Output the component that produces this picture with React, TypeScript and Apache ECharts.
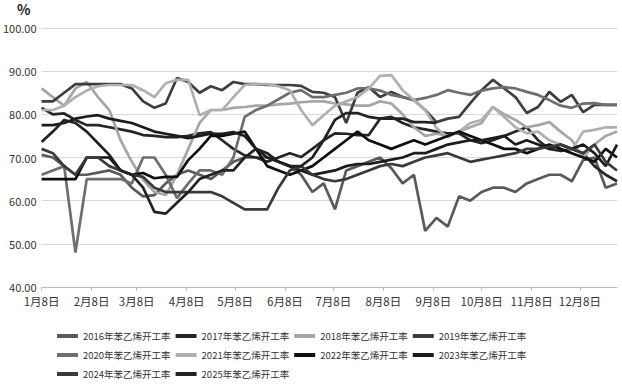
import React, { useEffect, useRef } from "react";
import * as echarts from "echarts";

// Weekly observations, first point on 1月8日, one point every 7 days
const s2016 = [70.6, 70, 68, 66, 66, 66.5, 67, 66, 63, 61, 61.3, 64, 66, 67, 66, 65, 67, 69, 70, 70, 70, 69, 68, 66, 62, 64, 58, 67, 68, 69, 70, 67.5, 64, 66, 53, 56, 54, 61, 60, 62, 63, 63, 62, 64, 65, 66, 66, 64.5, 69.4, 70, 63, 64];
const s2017 = [81.5, 80, 80.2, 78.7, 77.5, 77.5, 77, 76.5, 76, 75.2, 75, 74.7, 74.7, 75, 75.6, 75.9, 74, 72, 70.5, 70, 69, 70, 71, 70.1, 72, 74, 75.6, 75.5, 75.2, 75.2, 79, 79.4, 78, 77, 76.5, 76, 75.6, 75.6, 74, 73.3, 74, 75, 76, 77, 74, 72, 71.5, 72, 71, 68, 66, 64.5];
const s2018 = [86, 84, 82, 86, 87.5, 84, 81, 74, 69, 64.8, 62, 61.3, 66, 72, 78, 81, 81, 81.5, 81.7, 82, 82, 82.3, 82.5, 82.8, 83, 83, 82.5, 82.3, 82, 82, 83, 82.5, 80, 77, 75, 75.5, 75, 76, 77, 78, 81.7, 80, 78.7, 77, 77.5, 78.2, 76, 74, 70, 73, 75, 76];
const s2019 = [83, 83, 85, 87, 87, 87, 87, 87, 86, 83, 81.5, 82.5, 88.4, 87.5, 85, 86.5, 85.6, 87.5, 87, 87, 86.8, 86.8, 86.8, 86.6, 85.2, 85, 84, 78, 85, 86.3, 84, 85.2, 84, 83.3, 81, 78.2, 79, 79.4, 82.6, 85.6, 88, 86, 84, 80.3, 81.7, 85.2, 82.9, 84.5, 80.5, 82.2, 82.2, 82.2];
const s2020 = [66, 67, 68, 48, 65, 65, 65, 65, 64, 70, 70, 66, 60.6, 64, 67, 67, 66, 70, 79.4, 81, 82, 83.5, 85, 85.6, 84, 84, 84.5, 85, 86, 86, 85.5, 84.5, 84, 83.3, 83.8, 84.5, 85.6, 85, 84.5, 85.5, 86, 86.3, 86, 85.2, 84.5, 83.3, 82, 81.5, 82.5, 82.6, 82.2, 82.2];
const s2021 = [81, 81, 82, 84, 85.5, 86.5, 86.8, 86.8, 86.8, 85.6, 84, 87.2, 88, 88, 79.8, 81, 81, 84, 86.8, 87, 87, 86.5, 85.6, 81, 77.5, 79.8, 82, 83, 84, 86, 88.9, 89.1, 85.6, 83.3, 81, 76.8, 74.7, 76, 78, 78.7, 81.7, 79.4, 77, 75.6, 76, 74, 73, 71.7, 76, 76.4, 77, 77];
const s2022 = [65, 65, 65, 65, 70, 70, 70, 67, 66, 66.4, 65.2, 65.5, 65.5, 69.4, 72, 75, 75, 75.5, 76, 72, 68, 67, 66, 67, 68, 70, 72, 74, 76, 74, 73, 72, 73, 74, 73, 74, 75, 76, 75, 74, 73, 72, 72, 71, 72, 73, 72, 71, 70, 69, 72, 70];
const s2023 = [77.5, 77.5, 78, 79, 79.5, 79.8, 79, 78.5, 78, 77, 76, 75.5, 75, 74.5, 75, 75.5, 75.5, 75.9, 75, 72, 70, 69, 68, 67, 66, 66.5, 67, 68, 68.5, 68.5, 69, 69.5, 70, 71, 71, 72, 73, 73.5, 74, 74, 74.5, 75, 73, 74, 73, 72, 73, 72, 73, 71, 68, 73];
const s2024 = [72, 71, 68, 66, 70, 70, 68, 67, 66, 65.5, 63, 62, 62, 62, 62, 62, 61, 59.5, 58, 58, 58, 63, 67, 68, 66, 65, 64.5, 65, 66, 67, 68, 68.5, 68, 69, 70, 70.5, 71, 70, 69, 69.5, 70, 70.5, 71, 72, 72, 72.5, 73, 72, 71, 73, 69, 67];
const s2025 = [73.6, 76, 78.7, 78, 76, 73.3, 70.6, 67, 66, 63, 57.4, 57, 59.5, 62, 65, 66, 67, 67, 70, 72, 71, 69, 68, 68, 70, 74, 78.7, 80.3, 80.3, 79.4, 79, 79, 79, 78.2, 78.2, 78];

const seriesNames = [
  "2016年苯乙烯开工率", "2017年苯乙烯开工率", "2018年苯乙烯开工率", "2019年苯乙烯开工率",
  "2020年苯乙烯开工率", "2021年苯乙烯开工率", "2022年苯乙烯开工率", "2023年苯乙烯开工率",
  "2024年苯乙烯开工率", "2025年苯乙烯开工率",
];
const seriesValues = [s2016, s2017, s2018, s2019, s2020, s2021, s2022, s2023, s2024, s2025];
const seriesColors = ["#5a5a5a", "#262626", "#a6a6a6", "#3e3e3e", "#6e6e6e", "#b0b0b0", "#0f0f0f", "#1c1c1c", "#3a3a3a", "#222222"];

const monthLabels = ["1月8日", "2月8日", "3月8日", "4月8日", "5月8日", "6月8日", "7月8日", "8月8日", "9月8日", "10月8日", "11月8日", "12月8日"];
const yTicks = [40, 50, 60, 70, 80, 90, 100];

const DAY = 86400000;
const start = new Date(2025, 0, 8).getTime();
const yearEnd = Math.round((new Date(2025, 11, 31).getTime() - start) / DAY);
const monthDays = monthLabels.map((_, m) => Math.round((new Date(2025, m, 8).getTime() - start) / DAY));

export default function App() {
  const ref = useRef<HTMLDivElement>(null);
  useEffect(() => {
    if (!ref.current) return;
    const chart = echarts.init(ref.current, null, { renderer: "svg" });
    const font = "'Noto Sans CJK SC', 'Noto Sans', sans-serif";
    chart.setOption({
      animation: false,
      backgroundColor: "#ffffff",
      title: {
        text: "%",
        left: 15,
        top: 0,
        padding: [2, 2, 2, 2],
        textStyle: { fontSize: 14, fontWeight: "bold", color: "#222", fontFamily: font },
      },
      grid: { left: 39, right: 5, top: 28, bottom: 102, containLabel: false },
      xAxis: {
        type: "value",
        min: 0,
        max: yearEnd,
        axisLine: { show: true, lineStyle: { color: "#bfbfbf", width: 1 } },
        axisTick: { show: true, customValues: monthDays, length: 4, lineStyle: { color: "#bfbfbf" } },
        splitLine: { show: false },
        axisLabel: {
          customValues: monthDays,
          formatter: (v: number) => monthLabels[monthDays.indexOf(Math.round(v))] ?? "",
          fontSize: 11.5,
          color: "#333",
          margin: 8,
          fontFamily: font,
        },
      },
      yAxis: {
        type: "value",
        min: yTicks[0],
        max: yTicks[yTicks.length - 1],
        interval: 10,
        axisLine: { show: false },
        axisTick: { show: false },
        splitLine: { lineStyle: { color: "#d9d9d9", width: 1 } },
        axisLabel: {
          formatter: (v: number) => v.toFixed(2),
          fontSize: 11,
          color: "#333",
          margin: 5,
          fontFamily: font,
        },
      },
      legend: {
        left: 52,
        top: 324,
        width: 500,
        icon: "rect",
        itemWidth: 21,
        itemHeight: 4,
        itemGap: 5,
        textStyle: { fontSize: 9.5, color: "#333", fontFamily: font, lineHeight: 14 },
        data: seriesNames,
      },
      series: seriesValues.map((vals, i) => ({
        name: seriesNames[i],
        type: "line",
        data: vals.map((v, k) => [k * 7, v]),
        showSymbol: false,
        symbol: "none",
        lineStyle: { color: seriesColors[i], width: 2.7 },
        itemStyle: { color: seriesColors[i] },
        z: 2,
      })),
    });
    return () => chart.dispose();
  }, []);
  return <div ref={ref} style={{ position: "fixed", left: 0, top: 0, width: 622, height: 389 }} />;
}
